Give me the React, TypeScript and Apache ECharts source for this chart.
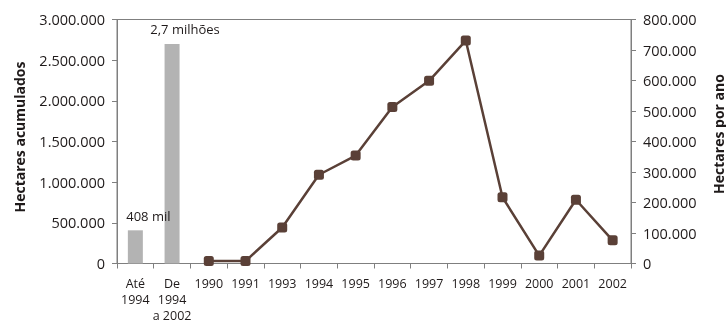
import React, { useEffect, useRef } from "react";
import * as echarts from "echarts";

const categories = ["Até\n1994", "De\n1994\na 2002", "1990", "1991", "1993", "1994", "1995", "1996", "1997", "1998", "1999", "2000", "2001", "2002"];
const accumulated: (number | string)[] = [408000, 2700000, "-", "-", "-", "-", "-", "-", "-", "-", "-", "-", "-", "-"];
const accumulatedLabels = ["408 mil", "2,7 milhões"];
const perYear: (number | string)[] = ["-", "-", 8000, 8000, 118000, 291000, 354000, 513000, 599000, 731000, 217000, 26000, 209000, 76000];
const leftTitle = "Hectares acumulados";
const rightTitle = "Hectares por ano";

const fmt = (v: number) => String(v).replace(/\B(?=(\d{3})+(?!\d))/g, ".");

const FONT = "Open Sans";
const AXIS = "#7f7f7f";
const TEXT = "#1f1a1a";

export default function App() {
  const ref = useRef<HTMLDivElement>(null);
  useEffect(() => {
    if (!ref.current) return;
    const chart = echarts.init(ref.current, undefined, { renderer: "svg" });
    chart.setOption({
      animation: false,
      textStyle: { fontFamily: FONT },
      grid: { left: 117, right: 95, top: 19.5, bottom: 62.5, show: true, borderColor: AXIS, borderWidth: 1 },
      xAxis: {
        type: "category",
        data: categories,
        boundaryGap: true,
        axisLine: { lineStyle: { color: AXIS, width: 1 } },
        axisTick: { show: true, length: 5, lineStyle: { color: AXIS } },
        axisLabel: { interval: 0, margin: 12, fontSize: 12.5, lineHeight: 16, color: TEXT, fontFamily: FONT },
      },
      yAxis: [
        {
          type: "value",
          min: 0,
          max: 3000000,
          interval: 500000,
          splitLine: { show: false },
          axisLine: { show: true, lineStyle: { color: AXIS } },
          axisTick: { show: true, length: 5, lineStyle: { color: AXIS } },
          axisLabel: { margin: 12, fontSize: 14.5, color: TEXT, fontFamily: FONT, formatter: (v: number) => fmt(v) },
        },
        {
          type: "value",
          min: 0,
          max: 800000,
          interval: 100000,
          position: "right",
          splitLine: { show: false },
          axisLine: { show: true, lineStyle: { color: AXIS } },
          axisTick: { show: true, length: 5, lineStyle: { color: AXIS } },
          axisLabel: { margin: 12, fontSize: 14.5, color: TEXT, fontFamily: FONT, formatter: (v: number) => fmt(v) },
        },
      ],
      series: [
        {
          type: "bar",
          yAxisIndex: 0,
          data: accumulated,
          barWidth: 15,
          itemStyle: { color: "#b3b3b3" },
          label: {
            show: true,
            position: "top",
            distance: 8,
            offset: [13, 0],
            fontSize: 13,
            color: TEXT,
            fontFamily: FONT,
            formatter: (p: any) => accumulatedLabels[p.dataIndex] ?? "",
          },
        },
        {
          type: "line",
          yAxisIndex: 1,
          data: perYear,
          symbol: "roundRect",
          symbolSize: 10,
          lineStyle: { color: "#5a4037", width: 2.5 },
          itemStyle: { color: "#5a4037" },
          z: 5,
        },
      ],
      graphic: [
        {
          type: "text",
          x: 19,
          y: 137,
          rotation: Math.PI / 2,
          style: { text: leftTitle, font: `bold 14px "${FONT}"`, fill: TEXT, textAlign: "center", textVerticalAlign: "middle" },
        },
        {
          type: "text",
          x: 718,
          y: 134,
          rotation: Math.PI / 2,
          style: { text: rightTitle, font: `bold 14px "${FONT}"`, fill: TEXT, textAlign: "center", textVerticalAlign: "middle" },
        },
      ],
    });
    return () => chart.dispose();
  }, []);
  return <div ref={ref} style={{ position: "fixed", left: 0, top: 0, width: 726, height: 326 }} />;
}
